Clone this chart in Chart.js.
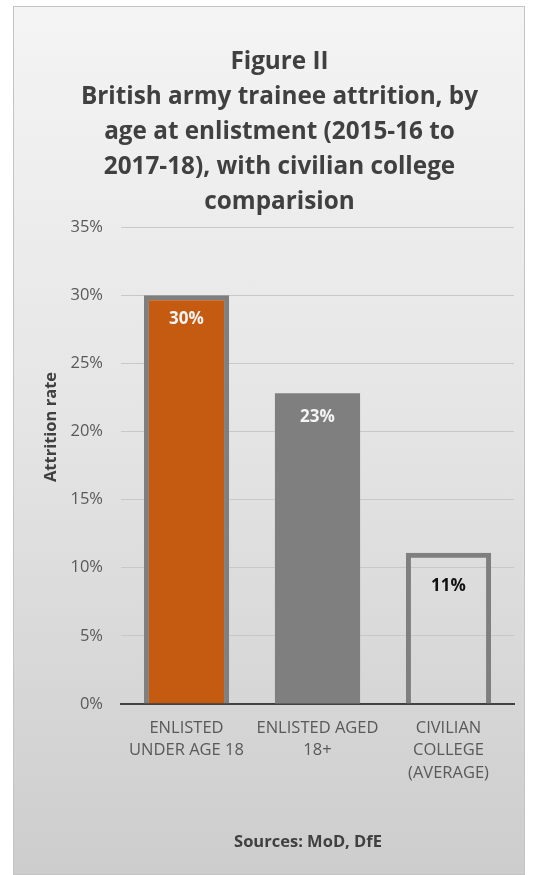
<!DOCTYPE html>
<html><head><meta charset="utf-8">
<script src="https://cdn.jsdelivr.net/npm/chart.js@4"></script>
<style>
html,body{margin:0;padding:0;background:#fff;}
#wrap{position:relative;width:539px;height:875px;overflow:hidden;}
#card{position:absolute;left:13px;top:6px;width:510px;height:867px;border:1px solid #c4c4c4;
  background:linear-gradient(180deg,#f4f4f4 0%,#e6e6e6 45%,#cdcdcd 100%);}
canvas{position:absolute;left:0;top:0;}
</style></head>
<body><div id="wrap"><div id="card"></div><canvas id="c" width="539" height="875"></canvas></div>
<script>
const titleLines = ['Figure II','British army trainee attrition, by','age at enlistment (2015-16 to','2017-18), with civilian college','comparision'];
const categories = [['ENLISTED','UNDER AGE 18'],['ENLISTED AGED','18+'],['CIVILIAN','COLLEGE','(AVERAGE)']];
const attritionRate = [30.0, 22.8, 11.1];
const yMin = 0, yMax = 35, yStep = 5;
const axisTitle = 'Attrition rate';
const sourceNote = 'Sources: MoD, DfE';

const FONT = '"Open Sans", Lato, sans-serif';

const extras = {
  id: 'extras',
  afterDraw(chart, args, opts) {
    const ctx = chart.ctx;
    const meta = chart.getDatasetMeta(0);
    ctx.save();
    ctx.textAlign = 'center';
    ctx.textBaseline = 'middle';
    ctx.font = 'bold 17px ' + FONT;
    meta.data.forEach((bar, i) => {
      ctx.fillStyle = opts.labelColors[i];
      ctx.fillText(Math.round(attritionRate[i]) + '%', bar.x, bar.y + opts.labelOffsets[i]);
    });
    ctx.save();
    ctx.translate(51, 427);
    ctx.rotate(-Math.PI / 2);
    ctx.font = 'bold 16.5px ' + FONT;
    ctx.fillStyle = '#404040';
    ctx.fillText(axisTitle, 0, 0);
    ctx.restore();
    ctx.font = 'bold 16.5px ' + FONT;
    ctx.fillStyle = '#404040';
    ctx.fillText(sourceNote, 308, 842);
    ctx.restore();
  }
};

new Chart(document.getElementById('c'), {
  type: 'bar',
  data: {
    labels: categories,
    datasets: [{
      data: attritionRate,
      backgroundColor: ['#C55A11', '#7F7F7F', 'rgba(0,0,0,0)'],
      borderColor: ['#7F7F7F', '#7F7F7F', '#7F7F7F'],
      borderWidth: [5, 0, 5],
      categoryPercentage: 1,
      barPercentage: 0.65
    }]
  },
  options: {
    responsive: false,
    animation: false,
    devicePixelRatio: 1,
    layout: { padding: { left: 45, right: 25, top: 0, bottom: 0 } },
    plugins: {
      legend: { display: false },
      tooltip: { enabled: false },
      title: {
        display: true,
        text: titleLines,
        color: '#404040',
        font: { family: FONT, size: 24.3, weight: 'bold', lineHeight: 35 / 24.3 },
        padding: { top: 44.5, bottom: 7.5 }
      },
      extras: {
        labelColors: ['#f4f4f4', '#f4f4f4', '#111111'],
        labelOffsets: [24, 24, 33]
      }
    },
    scales: {
      x: {
        grid: { display: false, drawTicks: false },
        border: { display: true, color: '#404040', width: 2 },
        ticks: { color: '#595959', font: { family: FONT, size: 16.5, lineHeight: 22.5 / 16.5 }, padding: 13, maxRotation: 0, autoSkip: false },
        afterFit(s) { s.height = 171; }
      },
      y: {
        min: yMin, max: yMax,
        grid: { color: '#c8c8c8', lineWidth: 1, drawTicks: false },
        border: { display: false },
        ticks: { stepSize: yStep, color: '#595959', font: { family: FONT, size: 16.5 }, padding: 18, callback: v => v + '%' },
        afterFit(s) { s.width = 76; }
      }
    }
  },
  plugins: [extras]
});
</script>
</body></html>
